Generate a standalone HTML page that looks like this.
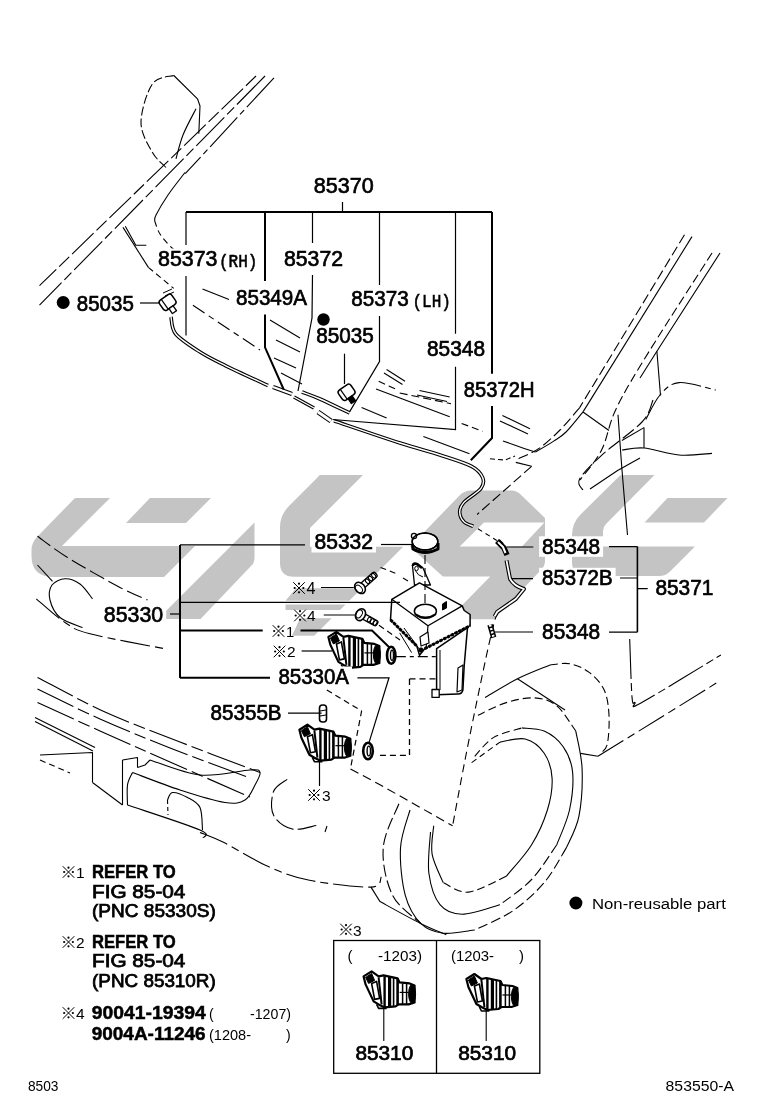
<!DOCTYPE html>
<html><head><meta charset="utf-8"><style>
html,body{margin:0;padding:0;background:#fff;width:760px;height:1112px;overflow:hidden}
svg{position:absolute;left:0;top:0;display:block;transform:translateZ(0)}
.lb{font-family:"Liberation Sans",sans-serif;fill:#000;stroke:#000;stroke-width:0.7px}
.mb{font-family:"Liberation Mono",monospace;fill:#000;stroke:#000;stroke-width:0.6px}
.sm{font-family:"Liberation Sans",sans-serif;stroke:#000;stroke-width:0.25px;fill:#000}
.nt{font-family:"Liberation Sans",sans-serif;font-weight:bold;fill:#000}
.rg{font-family:"Liberation Sans",sans-serif;fill:#000}
</style></head><body>
<svg width="760" height="1112" viewBox="0 0 760 1112">
<g fill="#c4c4c4" stroke="none">
<path d="M76,498 L110,498 L62,546 L195,546 L164,577 L54,577 Q31.5,577 31.5,556 L31.5,550 Q31.5,543 37,537 L73,500 Q74.5,498 76,498 Z"/>
<path d="M150,498 L211,498 L186,523 L126,523 Z"/>
<path d="M254.5,522.5 L254.5,558 Q254.5,563 251,566 L200.5,619 L158,619 Z"/>
<path d="M320,475 L363,475 L310,528 L310,546.8 L403.2,546.8 L373.2,576.8 L294,576.8 Q280,576.8 280,563 L280,527 Q280,515 289,506 L318,477 Q319,475 320,475 Z"/>
<path fill-rule="evenodd" d="M410,546.8 L459,496 Q464,490.5 471,490.5 L512,490.5 Q516,490.5 519,493 L545,518 L545,561 Q545,566 541,570 L494,619.2 L448.2,619.2 L490.3,576.4 L442.9,576.4 Z M483.9,522.4 L544.4,522.4 L522,546.6 L459.7,546.6 Z"/>
<path d="M622,475 L654.5,475 L606,524 Q603,527 603,531 L603,546.5 L695,546.5 L670,571.5 Q665.5,576 659,576 L586,576 Q572,576 572,562 L572,535 Q572,523 581,514 L619,476.5 Q620,475 622,475 Z"/>
<path d="M667.5,498 L727.5,498 L704,522.5 L644.5,522.5 Z"/>
<path d="M296,588.2 L361.8,588.2 L349.2,600.8 L285.5,600.8 Z"/><path d="M285.5,604.5 L345.5,604.5 L340,610 L285.5,610 Z"/><path d="M300,618.3 L331.7,618.3 L314.2,635.8 L292,635.8 Z"/>
</g>
<g fill="none" stroke="#000" stroke-linecap="butt" stroke-linejoin="round">
<path d="M173.8,75.5 L197.5,98.8 L200.0,106.0 L198.8,133.8" stroke-width="1.1"/>
<path d="M196.0,108.8 C193.8,113.1 186.3,126.7 183.0,135.0 C179.7,143.3 177.2,154.8 176.0,158.8" stroke-width="1.1"/>
<path d="M185.0,172.5 C182.2,176.2 172.8,187.9 168.0,195.0 C163.2,202.1 158.2,210.7 156.0,215.0 C153.8,219.3 154.9,220.0 154.7,221.0" stroke-width="1.1"/>
<path d="M123.0,227.4 L148.4,267.4" stroke-width="1.1"/>
<path d="M125.3,226.3 L135.8,245.3 L146.3,245.3" stroke-width="1.1"/>
<path d="M202.5,289.0 L229.0,299.5" stroke-width="1.1"/>
<path d="M270.0,320.0 L300.0,338.0" stroke-width="1.1"/>
<path d="M276.0,340.0 L300.0,352.0" stroke-width="1.1"/>
<path d="M274.0,358.0 L296.0,368.0" stroke-width="1.1"/>
<path d="M281.0,373.0 L302.0,384.0" stroke-width="1.1"/>
<path d="M386.6,369.5 L405.0,381.3" stroke-width="1.1"/>
<path d="M384.0,373.0 L402.5,384.5" stroke-width="1.1"/>
<path d="M376.0,389.0 L449.7,416.8" stroke-width="1.1"/>
<path d="M419.5,390.5 L449.7,397.0" stroke-width="1.1"/>
<path d="M417.0,395.0 L447.0,401.5" stroke-width="1.1"/>
<path d="M361.6,407.6 L386.6,418.0" stroke-width="1.1"/>
<path d="M423.4,436.6 L469.5,453.7" stroke-width="1.1"/>
<path d="M502.4,415.5 L530.0,428.7" stroke-width="1.1"/>
<path d="M500.0,421.0 L528.0,434.0" stroke-width="1.1"/>
<path d="M503.0,441.0 C506.5,442.2 518.8,446.5 524.2,448.4 C529.6,450.2 533.4,451.5 535.3,452.1" stroke-width="1.1"/>
<path d="M515.8,462.4 L531.6,466.3" stroke-width="1.1"/>
<path d="M692.0,236.6 L583.2,411.6" stroke-width="1.1"/>
<path d="M583.2,411.6 C580.3,415.0 570.9,427.1 566.0,432.0 C561.1,436.9 558.8,437.8 553.7,441.1 C548.6,444.5 538.4,450.3 535.3,452.1" stroke-width="1.1"/>
<path d="M720.0,253.0 L656.9,351.3 L640.0,378.0" stroke-width="1.1"/>
<path d="M656.9,351.3 L660.5,395.5" stroke-width="1.1"/>
<path d="M583.0,412.0 L609.0,430.5" stroke-width="1.1"/>
<path d="M590.0,489.0 L617.6,470.5 L640.0,458.0" stroke-width="1.1"/>
<path d="M618.0,414.7 C618.7,423.9 620.4,449.9 622.0,470.0 C623.6,490.1 626.6,524.2 627.5,535.0" stroke-width="1.1"/>
<path d="M621.9,440.5 L644.0,427.6" stroke-width="1.1"/>
<path d="M644.0,427.6 L644.0,448.0" stroke-width="1.1"/>
<path d="M622.0,450.0 C625.7,449.7 634.5,447.2 644.0,448.0 C653.5,448.8 667.7,454.1 679.0,455.0 C690.3,455.9 706.5,453.7 712.0,453.4" stroke-width="1.1"/>
<path d="M37.5,565.0 L52.5,581.3" stroke-width="1.1"/>
<path d="M92.5,598.8 C90.4,596.3 84.6,587.3 80.0,584.0 C75.4,580.7 69.7,578.6 65.0,578.8 C60.3,579.0 54.5,581.5 52.0,585.0 C49.5,588.5 48.7,594.6 50.0,600.0 C51.3,605.4 54.6,612.9 60.0,617.5 C65.4,622.1 78.8,625.8 82.5,627.5" stroke-width="1.1"/>
<path d="M35.0,717.5 L95.0,747.5" stroke-width="1.1"/>
<path d="M35.0,721.5 L93.0,751.0" stroke-width="1.1"/>
<path d="M40.0,755.0 L92.5,752.5 L92.5,782.5" stroke-width="1.1"/>
<path d="M92.5,782.5 L122.5,805.0" stroke-width="1.1"/>
<path d="M122.5,760.0 L122.5,805.0" stroke-width="1.1"/>
<path d="M122.5,760.0 L137.5,757.5 L137.5,767.5" stroke-width="1.1"/>
<path d="M137.5,767.5 L145.0,765.0 L150.0,760.0" stroke-width="1.1"/>
<path d="M132.5,772.5 C131.7,774.6 128.3,779.6 127.5,785.0 C126.7,790.4 127.5,801.7 127.5,805.0" stroke-width="1.1"/>
<path d="M127.5,805.0 C139.6,809.2 187.4,824.5 200.0,830.0 C212.6,835.5 202.5,836.7 203.0,838.0" stroke-width="1.1"/>
<path d="M167.5,800.0 C168.3,798.8 169.2,792.9 172.5,792.5 C175.8,792.1 182.9,795.0 187.5,797.5 C192.1,800.0 197.5,802.1 200.0,807.5 C202.5,812.9 202.1,826.2 202.5,830.0" stroke-width="1.1"/>
<path d="M150.0,760.0 C158.3,762.5 183.3,773.3 200.0,775.0 C216.7,776.7 240.0,770.4 250.0,770.0 C260.0,769.6 259.2,770.0 260.0,772.5 C260.8,775.0 257.5,780.4 255.0,785.0 C252.5,789.6 250.0,797.1 245.0,800.0 C240.0,802.9 235.8,804.2 225.0,802.5 C214.2,800.8 195.4,795.0 180.0,790.0 C164.6,785.0 140.4,775.4 132.5,772.5" stroke-width="1.1"/>
<path d="M485.0,697.5 C490.4,694.4 506.7,684.2 517.5,678.8 C528.3,673.3 544.6,667.3 550.0,665.0" stroke-width="1.1"/>
<path d="M517.5,678.8 L565.0,710.0" stroke-width="1.1"/>
<path d="M500.0,742.1 C504.2,741.6 517.9,737.1 525.3,739.0 C532.7,740.9 539.7,746.6 544.2,753.2 C548.7,759.8 551.6,768.9 552.1,778.4 C552.6,787.9 550.8,799.0 547.4,810.0 C544.0,821.0 538.5,833.7 531.6,844.7 C524.8,855.8 510.5,871.0 506.3,876.3" stroke-width="1.1"/>
<path d="M443.2,882.6 C441.4,877.9 433.7,863.7 432.1,854.2 C430.5,844.7 433.4,830.5 433.7,825.8" stroke-width="1.1"/>
<path d="M522.1,727.9 C525.8,728.4 537.4,728.0 544.2,731.1 C551.1,734.2 558.5,740.0 563.2,746.8 C567.9,753.6 571.6,761.6 572.6,772.1 C573.6,782.6 572.1,797.9 569.5,810.0 C566.9,822.1 558.9,838.9 556.8,844.7" stroke-width="1.1"/>
<path d="M500.0,904.7 C493.7,906.3 472.1,914.2 462.1,914.2 C452.1,914.2 445.5,911.5 440.0,904.7 C434.5,897.9 430.5,885.3 428.9,873.2 C427.3,861.1 430.2,839.0 430.5,832.1" stroke-width="1.1"/>
<path d="M575.8,731.1 C576.8,737.4 581.6,754.7 582.1,768.9 C582.6,783.1 581.5,803.1 578.9,816.3 C576.3,829.5 568.4,842.6 566.3,847.9" stroke-width="1.1"/>
<path d="M474.7,930.0 C469.4,930.5 452.1,934.2 443.2,933.2 C434.2,932.2 427.3,930.0 421.0,923.7 C414.7,917.4 408.7,907.9 405.3,895.3 C401.9,882.7 399.7,862.1 400.5,847.9 C401.3,833.7 408.4,816.3 410.0,810.0" stroke-width="1.1"/>
<path d="M380.0,901.6 C386.8,905.3 409.9,918.2 421.0,923.7 C432.1,929.2 442.1,932.9 446.3,934.7" stroke-width="1.1"/>
<path d="M580.5,753.4 L597.9,756.3" stroke-width="1.1"/>
<path d="M371.0,887.1 L380.0,901.6" stroke-width="1.1"/>
<path d="M327.0,826.0 L325.0,832.0" stroke-width="1.1"/>
<path d="M173.8,75.5 C170.2,76.9 158.0,75.9 152.5,83.8 C147.0,91.6 141.0,111.0 141.0,122.5 C141.0,134.0 148.3,145.0 152.5,152.5 C156.7,160.0 163.8,165.0 166.0,167.5" stroke-width="1.1" stroke-dasharray="9 3"/>
<path d="M256.0,76.0 L39.5,285.6" stroke-width="1.1" stroke-dasharray="14 4 30 4"/>
<path d="M265.0,76.0 L39.5,305.1" stroke-width="1.1" stroke-dasharray="40 4 10 4"/>
<path d="M274.0,77.8 L185.2,173.7" stroke-width="1.1" stroke-dasharray="40 4 6 4"/>
<path d="M154.7,221.0 C155.6,223.2 157.1,229.5 160.0,234.0 C162.9,238.5 167.8,244.0 172.0,248.0 C176.2,252.0 182.8,256.3 185.0,258.0" stroke-width="1.1" stroke-dasharray="6 4"/>
<path d="M148.4,267.4 L173.7,288.4" stroke-width="1.1" stroke-dasharray="6 4"/>
<path d="M192.9,305.3 L260.0,350.0" stroke-width="1.1" stroke-dasharray="14 5 6 5"/>
<path d="M477.9,528.7 L496.8,540.5" stroke-width="1.1" stroke-dasharray="5 4"/>
<path d="M378.7,381.3 L395.8,389.2" stroke-width="1.1" stroke-dasharray="7 4"/>
<path d="M399.7,393.0 L451.0,403.7" stroke-width="1.1" stroke-dasharray="8 4"/>
<path d="M461.6,423.4 L482.6,431.3" stroke-width="1.1" stroke-dasharray="7 4"/>
<path d="M490.0,458.8 L505.0,460.0 L515.0,456.0" stroke-width="1.1" stroke-dasharray="5 3"/>
<path d="M684.5,234.7 L579.5,407.9" stroke-width="1.1" stroke-dasharray="10 4"/>
<path d="M579.5,407.9 C576.2,411.6 566.8,423.2 560.0,430.0 C553.2,436.8 546.2,443.5 539.0,448.4 C531.8,453.3 520.5,457.6 516.8,459.5" stroke-width="1.1" stroke-dasharray="10 4"/>
<path d="M531.6,466.3 L477.1,514.5" stroke-width="1.1" stroke-dasharray="10 4"/>
<path d="M712.0,253.0 C701.7,269.2 666.0,324.1 650.0,350.0 C634.0,375.9 624.4,391.7 616.3,408.4 C608.2,425.1 607.6,438.1 601.6,450.0 C595.6,461.9 583.6,475.0 580.0,480.0" stroke-width="1.1" stroke-dasharray="9 4"/>
<path d="M645.8,419.5 C648.2,415.4 654.5,401.1 660.0,395.0 C665.5,388.9 669.7,383.4 679.0,382.6 C688.3,381.8 709.7,388.8 715.8,390.0" stroke-width="1.1" stroke-dasharray="30 4 6 4"/>
<path d="M653.0,400.0 C651.2,403.7 650.6,412.8 642.0,422.0 C633.4,431.2 612.0,445.8 601.6,455.3 C591.2,464.8 582.6,473.4 579.5,479.2 C576.4,485.0 582.4,488.4 583.0,490.3" stroke-width="1.1" stroke-dasharray="14 4"/>
<path d="M37.5,536.3 C42.5,539.8 53.8,549.0 67.5,557.5 C81.2,566.0 106.7,580.4 120.0,587.5 C133.3,594.6 142.9,597.9 147.5,600.0" stroke-width="1.1" stroke-dasharray="16 5"/>
<path d="M36.3,598.8 C41.1,602.8 56.0,616.7 65.0,622.5 C74.0,628.3 73.3,629.4 90.0,633.8 C106.7,638.2 152.5,646.3 165.0,648.8" stroke-width="1.1" stroke-dasharray="30 5 8 5"/>
<path d="M37.5,677.5 C48.8,683.2 81.2,701.2 105.0,712.0 C128.8,722.8 154.2,731.9 180.0,742.0 C205.8,752.1 246.7,767.4 260.0,772.5" stroke-width="1.1" stroke-dasharray="40 5 12 5"/>
<path d="M37.5,689.0 C47.9,694.0 77.9,709.2 100.0,719.0 C122.1,728.8 145.0,738.2 170.0,748.0 C195.0,757.8 236.7,773.0 250.0,778.0" stroke-width="1.1" stroke-dasharray="40 5 12 5"/>
<path d="M37.5,702.5 C47.9,707.2 77.9,721.1 100.0,731.0 C122.1,740.9 145.0,751.0 170.0,762.0 C195.0,773.0 236.7,791.2 250.0,797.0" stroke-width="1.1" stroke-dasharray="40 5 12 5"/>
<path d="M40.0,760.0 L70.0,773.0" stroke-width="1.1" stroke-dasharray="6 4"/>
<path d="M167.5,800.0 L168.0,815.0" stroke-width="1.1" stroke-dasharray="4 3"/>
<path d="M497.0,612.0 C495.6,617.5 491.9,631.0 488.8,645.0 C485.6,659.0 481.9,677.1 477.9,696.3 C473.9,715.5 469.2,738.4 465.0,760.0 C460.8,781.6 454.7,814.8 452.6,825.8" stroke-width="1.1" stroke-dasharray="8 5"/>
<path d="M350.5,769.0 L380.0,784.7 L452.6,825.8" stroke-width="1.1" stroke-dasharray="9 5"/>
<path d="M550.0,665.0 C553.3,664.8 563.5,662.5 570.0,663.8 C576.5,665.0 583.5,668.0 589.2,672.4 C594.9,676.8 600.9,682.9 604.2,690.0 C607.5,697.1 608.5,706.3 609.0,715.3 C609.5,724.2 608.7,737.4 607.4,743.7 C606.1,750.0 602.1,751.6 601.0,753.2" stroke-width="1.1" stroke-dasharray="8 4"/>
<path d="M471.6,762.6 L500.0,742.1" stroke-width="1.1" stroke-dasharray="6 4"/>
<path d="M506.3,876.3 C500.0,878.9 478.9,891.0 468.4,892.1 C457.9,893.2 447.4,884.2 443.2,882.6" stroke-width="1.1" stroke-dasharray="8 4"/>
<path d="M474.7,756.3 C477.9,753.1 485.8,742.1 493.7,737.4 C501.6,732.7 517.4,729.5 522.1,727.9" stroke-width="1.1" stroke-dasharray="8 4"/>
<path d="M556.8,844.7 C552.6,850.5 541.1,869.5 531.6,879.5 C522.1,889.5 505.3,900.5 500.0,904.7" stroke-width="1.1" stroke-dasharray="10 4"/>
<path d="M477.9,715.3 C482.6,713.2 496.8,705.5 506.3,702.6 C515.8,699.7 526.3,697.4 534.7,697.9 C543.1,698.4 549.9,700.3 556.8,705.8 C563.6,711.3 572.6,726.9 575.8,731.1" stroke-width="1.1" stroke-dasharray="8 4"/>
<path d="M566.3,847.9 C562.6,853.7 553.2,872.1 544.2,882.6 C535.2,893.1 524.2,903.1 512.6,911.0 C501.0,918.9 481.0,926.8 474.7,930.0" stroke-width="1.1" stroke-dasharray="10 4"/>
<path d="M398.9,803.7 C396.3,811.1 384.2,832.6 383.2,847.9 C382.1,863.2 386.3,882.7 392.6,895.3 C398.9,907.9 416.3,919.0 421.0,923.7" stroke-width="1.1" stroke-dasharray="12 4"/>
<path d="M629.7,639.0 C630.1,648.7 631.1,686.4 632.0,697.0 C632.9,707.6 633.5,701.5 635.0,702.5 C636.5,703.5 626.7,710.9 641.0,703.0 C655.3,695.1 707.6,663.0 720.9,655.0" stroke-width="1.1" stroke-dasharray="40 4 8 4"/>
<path d="M597.9,756.3 C608.2,749.9 639.7,730.5 660.0,718.0 C680.3,705.5 709.6,687.2 719.5,681.1" stroke-width="1.1" stroke-dasharray="30 5 8 5"/>
<path d="M200.0,832.4 C204.0,834.1 212.6,836.9 224.0,842.6 C235.4,848.3 254.1,860.3 268.4,866.6 C282.6,872.9 292.4,876.9 309.5,880.3 C326.6,883.7 359.0,887.7 371.0,887.1 C383.0,886.5 379.6,878.5 381.3,876.8" stroke-width="1.1" stroke-dasharray="30 5 8 5"/>
<path d="M287.2,779.3 C284.9,781.3 275.9,785.3 273.6,791.3 C271.3,797.3 270.5,809.0 273.6,815.3 C276.7,821.6 285.3,827.3 292.4,829.0 C299.5,830.7 312.3,826.1 316.3,825.5" stroke-width="1.1" stroke-dasharray="20 4"/>
<path d="M171.0,317.0 C171.8,319.8 171.0,328.2 175.8,334.0 C180.6,339.8 191.7,346.7 200.0,352.0 C208.3,357.3 214.5,360.2 225.8,365.8 C237.1,371.4 261.0,382.2 268.0,385.5" stroke-width="3.6"/><path d="M171.0,317.0 C171.8,319.8 171.0,328.2 175.8,334.0 C180.6,339.8 191.7,346.7 200.0,352.0 C208.3,357.3 214.5,360.2 225.8,365.8 C237.1,371.4 261.0,382.2 268.0,385.5" stroke="#fff" stroke-width="1.4"/>
<path d="M273.0,387.0 L292.0,394.0" stroke-width="4.5"/><path d="M273.0,387.0 L292.0,394.0" stroke="#fff" stroke-width="2.3"/>
<path d="M294.0,397.0 L314.0,408.0" stroke-width="3.6"/><path d="M294.0,397.0 L314.0,408.0" stroke="#fff" stroke-width="1.4"/>
<path d="M318.0,412.0 L331.0,421.0" stroke-width="5"/><path d="M318.0,412.0 L331.0,421.0" stroke="#fff" stroke-width="2.8"/>
<path d="M302.0,392.0 C305.0,393.2 312.1,395.5 320.0,399.0 C327.9,402.5 344.6,410.7 349.5,413.0" stroke-width="3.6"/><path d="M302.0,392.0 C305.0,393.2 312.1,395.5 320.0,399.0 C327.9,402.5 344.6,410.7 349.5,413.0" stroke="#fff" stroke-width="1.4"/>
<path d="M334.0,420.8 C345.0,424.5 382.3,437.3 400.0,443.0 C417.7,448.7 428.1,451.1 440.0,455.0 C451.9,458.9 464.5,462.6 471.6,466.3 C478.7,470.0 481.0,473.7 482.6,477.4 C484.2,481.1 484.1,484.2 481.0,488.4 C477.9,492.6 467.2,498.7 463.7,502.6 C460.1,506.6 459.7,508.9 459.7,512.1 C459.7,515.3 461.4,519.2 463.7,521.6 C465.9,524.0 471.6,525.5 473.2,526.3" stroke-width="3.6"/><path d="M334.0,420.8 C345.0,424.5 382.3,437.3 400.0,443.0 C417.7,448.7 428.1,451.1 440.0,455.0 C451.9,458.9 464.5,462.6 471.6,466.3 C478.7,470.0 481.0,473.7 482.6,477.4 C484.2,481.1 484.1,484.2 481.0,488.4 C477.9,492.6 467.2,498.7 463.7,502.6 C460.1,506.6 459.7,508.9 459.7,512.1 C459.7,515.3 461.4,519.2 463.7,521.6 C465.9,524.0 471.6,525.5 473.2,526.3" stroke="#fff" stroke-width="1.4"/>
</g>
<g stroke="#000" stroke-linejoin="round">
<path d="M412.5,544 L413,549 Q425,556 438,549 L438,543" fill="#fff" stroke-width="3"/>
<ellipse cx="425" cy="541.5" rx="12.8" ry="8.5" fill="#fff" stroke-width="1.5"/>
<circle cx="414" cy="536" r="2.6" fill="#fff" stroke-width="1.3"/>
<ellipse cx="425" cy="541.5" rx="12.8" ry="8.5" fill="none" stroke-width="1.5"/>
<path d="M412.5,566 Q412.5,562 417,563.5 L423,568 L430.5,585 L414.5,585 Z" fill="#fff" stroke-width="1.3"/>
<path d="M412.8,566 Q413,563 417,564 L422,568" fill="none" stroke-width="2.6"/>
<path d="M415,570 Q418,576 423,577" fill="none" stroke-width="1"/>
<ellipse cx="416.5" cy="568.5" rx="1.8" ry="2.2" fill="none" stroke-width="1"/>
<path d="M380.5,567.4 L395.3,573.2 M403,578 L408,581" stroke-width="1.1" stroke-dasharray="6 4" fill="none"/>
<path d="M379,625.3 L400,640" stroke-width="1.1" stroke-dasharray="6 4" fill="none"/>
<path d="M436.6,648.7 L467.5,627.6 L464.2,665.8 L462.9,690 Q462,694 458,694 L436.6,694.7 Z" fill="#fff" stroke-width="1.5"/>
<path d="M458,668 L463,665 L462,690 L457,692 Z" fill="none" stroke-width="1.2"/>
<path d="M432,689.5 L439.2,689.5 L439.2,697.4 L432,697.4 Z" fill="#fff" stroke-width="1.3"/>
<path d="M440,650 L440,690" fill="none" stroke-width="1"/>
<path d="M391.8,599.3 L419.5,582.9 L462.2,605.9 L464.2,610.5 L470.1,614.5 L470.1,625.7 L424.7,648.7 L419.5,655.3 L416.8,646 L390.5,619.7 Z" fill="#fff" stroke-width="1.5"/>
<path d="M391.8,599.3 L428,625.7 L462.2,605.9" fill="none" stroke-width="1.3"/>
<path d="M428,625.7 L426,648.7" fill="none" stroke-width="1.2"/>
<path d="M390.5,619.7 L416.8,646" fill="none" stroke-width="3" stroke-dasharray="3 1.2"/>
<path d="M424.7,648.7 L470.1,625.7" fill="none" stroke-width="3" stroke-dasharray="3 1.2"/>
<path d="M399.7,632.9 L411.6,652.6 M404,628 L420,650" fill="none" stroke-width="1"/>
<ellipse cx="425.4" cy="611.2" rx="11" ry="7" fill="#fff" stroke-width="1.5"/>
<path d="M415,614 Q425.4,621 436,614" fill="none" stroke-width="2"/>
<path d="M442.5,604 L446.5,601.5 L446.5,608 L442.5,610 Z" fill="#000" stroke-width="1"/>
<path d="M420,637 L428,632 L429,643 L421,646 Z" fill="#fff" stroke-width="1.2"/>
<circle cx="421" cy="650" r="2.2" fill="#000" stroke-width="0.8"/>
<path d="M395.8,656.6 L436.6,656.6" fill="none" stroke-width="1.1" stroke-dasharray="10 4 4 4"/>
<path d="M425,555 L425,606" stroke-width="1.1" stroke-dasharray="9 4" fill="none"/>
<path d="M409.5,678.9 L437,678.9 M409.5,678.9 L409.5,755.3 L376.3,755.3" fill="none" stroke-width="1.3" stroke-dasharray="6 4"/>
<ellipse cx="391.2" cy="655.3" rx="4.2" ry="8.5" fill="#fff" stroke-width="2.6"/>
<ellipse cx="392.0" cy="655.3" rx="1.5" ry="5.1" fill="none" stroke-width="1.4"/>
<g transform="translate(360,587.9) rotate(-41.7)">
<rect x="2" y="-2.9" width="19.4" height="5.8" rx="2" fill="#fff" stroke-width="1.3"/>
<ellipse cx="10.0" cy="0" rx="1.6" ry="2.6" fill="none" stroke-width="1.1"/>
<ellipse cx="14.1" cy="0" rx="1.6" ry="2.6" fill="none" stroke-width="1.1"/>
<ellipse cx="18.3" cy="0" rx="1.6" ry="2.6" fill="none" stroke-width="1.1"/>
<ellipse cx="0" cy="0" rx="4.7" ry="6.2" fill="#fff" stroke-width="1.6"/>
<ellipse cx="-1.5" cy="0" rx="2.8" ry="4.3" fill="none" stroke-width="1"/>
</g>
<g transform="translate(360.5,614.7) rotate(29.0)">
<rect x="2" y="-2.9" width="17.1" height="5.8" rx="2" fill="#fff" stroke-width="1.3"/>
<ellipse cx="10.0" cy="0" rx="1.6" ry="2.6" fill="none" stroke-width="1.1"/>
<ellipse cx="13.4" cy="0" rx="1.6" ry="2.6" fill="none" stroke-width="1.1"/>
<ellipse cx="16.8" cy="0" rx="1.6" ry="2.6" fill="none" stroke-width="1.1"/>
<ellipse cx="0" cy="0" rx="4.7" ry="6.2" fill="#fff" stroke-width="1.6"/>
<ellipse cx="-1.5" cy="0" rx="2.8" ry="4.3" fill="none" stroke-width="1"/>
</g>
<g transform="translate(327.4,631.9) scale(1.0)">
<path d="M1,5 L9,0 L16,5 L21,4 L35,7 L37,11 L47,12 L52,14 L52,31 L46,33 L36,33 L33,35 L22,36 L16,33 L11,30 L3,13 Z" fill="#fff" stroke-width="2.2"/>
<path d="M3,6 L9,2 L12,9 L6,12 Z" fill="#000" stroke-width="1"/>
<path d="M9,12 L14,10 L17,27 L12,28 Z" fill="none" stroke-width="1.6"/>
<path d="M16,6 L19,33" fill="none" stroke-width="2"/>
<path d="M22,5 L22,36" fill="none" stroke-width="2.4"/>
<path d="M27,5 L27,35" fill="none" stroke-width="3.2"/>
<path d="M31,6 L31,35" fill="none" stroke-width="1.6"/>
<path d="M35,7 L35,34" fill="none" stroke-width="2.6"/>
<path d="M40,12 L40,33 M44,12 L44,33" fill="none" stroke-width="1.5"/>
<path d="M37,21 L46,21" fill="none" stroke-width="1.2"/>
<ellipse cx="49.5" cy="22.5" rx="3.5" ry="9.5" fill="#000" stroke-width="1"/>
<path d="M14,33 L16,37 L24,37" fill="none" stroke-width="1.6"/>
</g>
<ellipse cx="368" cy="751" rx="4.8" ry="8.2" fill="#fff" stroke-width="2.6"/>
<ellipse cx="368.8" cy="751" rx="1.7" ry="4.9" fill="none" stroke-width="1.4"/>
<g transform="translate(298.4,724.7) scale(1.0)">
<path d="M1,5 L9,0 L16,5 L21,4 L35,7 L37,11 L47,12 L52,14 L52,31 L46,33 L36,33 L33,35 L22,36 L16,33 L11,30 L3,13 Z" fill="#fff" stroke-width="2.2"/>
<path d="M3,6 L9,2 L12,9 L6,12 Z" fill="#000" stroke-width="1"/>
<path d="M9,12 L14,10 L17,27 L12,28 Z" fill="none" stroke-width="1.6"/>
<path d="M16,6 L19,33" fill="none" stroke-width="2"/>
<path d="M22,5 L22,36" fill="none" stroke-width="2.4"/>
<path d="M27,5 L27,35" fill="none" stroke-width="3.2"/>
<path d="M31,6 L31,35" fill="none" stroke-width="1.6"/>
<path d="M35,7 L35,34" fill="none" stroke-width="2.6"/>
<path d="M40,12 L40,33 M44,12 L44,33" fill="none" stroke-width="1.5"/>
<path d="M37,21 L46,21" fill="none" stroke-width="1.2"/>
<ellipse cx="49.5" cy="22.5" rx="3.5" ry="9.5" fill="#000" stroke-width="1"/>
<path d="M14,33 L16,37 L24,37" fill="none" stroke-width="1.6"/>
</g>
<rect x="319.5" y="705" width="7" height="17" rx="3" fill="#fff" stroke-width="1.6"/>
<path d="M320,711 L326,710 M320,716 L326,715" stroke-width="1.2" fill="none"/>
<path d="M326.8,690 L361.6,711 L351,765.8" fill="none" stroke-width="1.2" stroke-dasharray="6 4"/>
<g transform="translate(168,302) rotate(-35)"><rect x="-8" y="-6" width="15" height="12" rx="3" fill="#fff" stroke-width="1.5"/><path d="M-4,-6 L-4,6" stroke-width="1.2"/><rect x="-3" y="6" width="5" height="6" fill="#fff" stroke-width="1.3"/></g>
<path d="M163,293 L172,289 M165,296 L174,292" stroke-width="1" fill="none"/>
<g transform="translate(347,392) rotate(-35)"><rect x="-8" y="-6" width="15" height="12" rx="3" fill="#fff" stroke-width="1.5"/><path d="M-4,-6 L-4,6" stroke-width="1.2"/><rect x="-3" y="6" width="5" height="6" fill="#000" stroke-width="1.3"/></g>
<path d="M497,541 L504,548 L507,555" stroke-width="5.5" fill="none"/><path d="M498,542 L503,547 L505.5,553" stroke="#fff" stroke-width="2" fill="none"/>
<path d="M499,540 L503,544" stroke-width="2" fill="none"/>
<path d="M506.5,560.3 L510,578.7 Q514,586 524,589 L515.8,599 L497.3,611.8 L494.6,616.4" stroke-width="4" fill="none"/><path d="M506.5,560.3 L510,578.7 Q514,586 524,589 L515.8,599 L497.3,611.8 L494.6,616.4" stroke="#fff" stroke-width="1.8" fill="none"/>
<path d="M490,624.7 L493.7,637.6" stroke-width="5.5" fill="none"/><path d="M490,624.7 L493.7,637.6" stroke="#fff" stroke-width="2.5" fill="none" stroke-dasharray="2 1.5"/>
<g transform="translate(362.6,971.4) scale(1.0)">
<path d="M1,5 L9,0 L16,5 L21,4 L35,7 L37,11 L47,12 L52,14 L52,31 L46,33 L36,33 L33,35 L22,36 L16,33 L11,30 L3,13 Z" fill="#fff" stroke-width="2.2"/>
<path d="M3,6 L9,2 L12,9 L6,12 Z" fill="#000" stroke-width="1"/>
<path d="M9,12 L14,10 L17,27 L12,28 Z" fill="none" stroke-width="1.6"/>
<path d="M16,6 L19,33" fill="none" stroke-width="2"/>
<path d="M22,5 L22,36" fill="none" stroke-width="2.4"/>
<path d="M27,5 L27,35" fill="none" stroke-width="3.2"/>
<path d="M31,6 L31,35" fill="none" stroke-width="1.6"/>
<path d="M35,7 L35,34" fill="none" stroke-width="2.6"/>
<path d="M40,12 L40,33 M44,12 L44,33" fill="none" stroke-width="1.5"/>
<path d="M37,21 L46,21" fill="none" stroke-width="1.2"/>
<ellipse cx="49.5" cy="22.5" rx="3.5" ry="9.5" fill="#000" stroke-width="1"/>
<path d="M14,33 L16,37 L24,37" fill="none" stroke-width="1.6"/>
</g>
<g transform="translate(465.4,974) scale(1.0)">
<path d="M1,5 L9,0 L16,5 L21,4 L35,7 L37,11 L47,12 L52,14 L52,31 L46,33 L36,33 L33,35 L22,36 L16,33 L11,30 L3,13 Z" fill="#fff" stroke-width="2.2"/>
<path d="M3,6 L9,2 L12,9 L6,12 Z" fill="#000" stroke-width="1"/>
<path d="M9,12 L14,10 L17,27 L12,28 Z" fill="none" stroke-width="1.6"/>
<path d="M16,6 L19,33" fill="none" stroke-width="2"/>
<path d="M22,5 L22,36" fill="none" stroke-width="2.4"/>
<path d="M27,5 L27,35" fill="none" stroke-width="3.2"/>
<path d="M31,6 L31,35" fill="none" stroke-width="1.6"/>
<path d="M35,7 L35,34" fill="none" stroke-width="2.6"/>
<path d="M40,12 L40,33 M44,12 L44,33" fill="none" stroke-width="1.5"/>
<path d="M37,21 L46,21" fill="none" stroke-width="1.2"/>
<ellipse cx="49.5" cy="22.5" rx="3.5" ry="9.5" fill="#000" stroke-width="1"/>
<path d="M14,33 L16,37 L24,37" fill="none" stroke-width="1.6"/>
</g>
</g>
<g fill="none" stroke="#000" stroke-width="1.2">
<path d="M186,212 L492,212" stroke-width="2.2"/>
<path d="M342.5,202 L342.5,212"/>
<path d="M186,212 L186,245 M186,276 L186,335.5"/>
<path d="M265,212 L265,281 M265,314.5 L265,347.4 L283.7,389.5" stroke-width="2"/>
<path d="M312.5,212 L312.5,243 M312.5,275 L312,318 L298,391"/>
<path d="M379.5,212 L379.5,285 M379.5,316 L379.5,361.6 L349.7,411.6"/>
<path d="M455.5,212 L455.5,333.75 M455.5,366.8 L455.5,429.5 L332.6,419.5"/>
<path d="M492,212 L492,373.75 M492,406 L492,438 L470.8,460.3" stroke-width="2"/>
<path d="M344.5,353.7 L344.5,384"/>
<path d="M140,303 L160,303"/>
<path d="M180,544.9 L180,678" stroke-width="2"/>
<path d="M180,544.9 L305,544.9"/>
<path d="M381,544.5 L412.5,544.5"/>
<path d="M180,602.4 L400,602.4"/>
<path d="M170,614 L180,614"/>
<path d="M180,630.6 L262.7,630.6 M300.5,630.6 L372,630.6 L390,648" stroke-width="2"/>
<path d="M301.6,651 L332,651"/>
<path d="M180,677.8 L270,677.8" stroke-width="2"/>
<path d="M357.4,677.8 L389,677.8 L369,742.6"/>
<path d="M321,587.5 L353.75,587.5 M323.75,615 L355,615"/>
<path d="M288,713.2 L321.6,713.2"/>
<path d="M319.5,761.6 L319.5,786"/>
<path d="M637.4,546.6 L637.4,632.2" stroke-width="1.6"/>
<path d="M609,546.6 L637.4,546.6 M620,578 L637.4,578 M609,632.2 L637.4,632.2 M637.4,588.6 L647.7,588.6"/>
<path d="M506.6,547 L533.3,547 M512,578.7 L533,578.7 M494.6,632 L533,632"/>
</g>

<rect x="310.8" y="175.0" width="66.0" height="21.5" fill="#fff"/>
<text x="313.75" y="193.3" font-size="22.97" textLength="60" lengthAdjust="spacingAndGlyphs" class="lb">85370</text>
<rect x="155.0" y="248.5" width="65.5" height="21.0" fill="#fff"/>
<text x="158" y="266.3" font-size="22.30" textLength="59.5" lengthAdjust="spacingAndGlyphs" class="lb">85373</text>
<rect x="281.0" y="248.5" width="65.0" height="21.0" fill="#fff"/>
<text x="284" y="266.3" font-size="22.30" textLength="59" lengthAdjust="spacingAndGlyphs" class="lb">85372</text>
<rect x="233.0" y="287.5" width="77.0" height="21.0" fill="#fff"/>
<text x="236" y="305.3" font-size="22.30" textLength="71" lengthAdjust="spacingAndGlyphs" class="lb">85349A</text>
<rect x="348.2" y="288.5" width="63.5" height="21.0" fill="#fff"/>
<text x="351.25" y="306.3" font-size="22.30" textLength="57.5" lengthAdjust="spacingAndGlyphs" class="lb">85373</text>
<rect x="73.8" y="293.5" width="63.0" height="21.0" fill="#fff"/>
<text x="76.8" y="311.3" font-size="22.30" textLength="57" lengthAdjust="spacingAndGlyphs" class="lb">85035</text>
<rect x="313.2" y="326.0" width="63.5" height="20.5" fill="#fff"/>
<text x="316.25" y="343.3" font-size="21.62" textLength="57.5" lengthAdjust="spacingAndGlyphs" class="lb">85035</text>
<rect x="424.0" y="339.0" width="64.0" height="20.5" fill="#fff"/>
<text x="427" y="356.3" font-size="21.62" textLength="58" lengthAdjust="spacingAndGlyphs" class="lb">85348</text>
<rect x="460.8" y="378.5" width="76.8" height="21.5" fill="#fff"/>
<text x="463.75" y="396.8" font-size="22.97" textLength="70.75" lengthAdjust="spacingAndGlyphs" class="lb">85372H</text>
<rect x="311.5" y="532.0" width="64.5" height="20.5" fill="#fff"/>
<text x="314.5" y="549.3" font-size="21.62" textLength="58.5" lengthAdjust="spacingAndGlyphs" class="lb">85332</text>
<rect x="539.1" y="536.3" width="64.0" height="20.5" fill="#fff"/>
<text x="542.1" y="553.6" font-size="21.62" textLength="58" lengthAdjust="spacingAndGlyphs" class="lb">85348</text>
<rect x="539.1" y="567.8" width="76.5" height="20.5" fill="#fff"/>
<text x="542.1" y="585.1" font-size="21.62" textLength="70.5" lengthAdjust="spacingAndGlyphs" class="lb">85372B</text>
<rect x="652.4" y="577.3" width="64.0" height="21.0" fill="#fff"/>
<text x="655.4" y="595.1" font-size="22.30" textLength="58" lengthAdjust="spacingAndGlyphs" class="lb">85371</text>
<rect x="539.1" y="621.2" width="64.0" height="20.5" fill="#fff"/>
<text x="542.1" y="638.5" font-size="21.62" textLength="58" lengthAdjust="spacingAndGlyphs" class="lb">85348</text>
<rect x="100.8" y="604.1" width="65.4" height="21.0" fill="#fff"/>
<text x="103.8" y="621.9" font-size="22.30" textLength="59.4" lengthAdjust="spacingAndGlyphs" class="lb">85330</text>
<rect x="275.4" y="666.5" width="76.6" height="21.0" fill="#fff"/>
<text x="278.4" y="684.3" font-size="22.30" textLength="70.6" lengthAdjust="spacingAndGlyphs" class="lb">85330A</text>
<rect x="207.6" y="702.5" width="77.0" height="20.5" fill="#fff"/>
<text x="210.6" y="719.8" font-size="21.62" textLength="71" lengthAdjust="spacingAndGlyphs" class="lb">85355B</text>
<rect x="352.4" y="1044.2" width="63.9" height="19.0" fill="#fff"/>
<text x="355.4" y="1060.0" font-size="19.59" textLength="57.9" lengthAdjust="spacingAndGlyphs" class="lb">85310</text>
<rect x="455.2" y="1044.2" width="63.9" height="19.0" fill="#fff"/>
<text x="458.2" y="1060.0" font-size="19.59" textLength="57.9" lengthAdjust="spacingAndGlyphs" class="lb">85310</text>
<g fill="#000">
<circle cx="63.2" cy="302.5" r="6.5"/>
<circle cx="323.5" cy="319.5" r="6.2"/>
<circle cx="575.9" cy="903" r="6.5"/>
</g>
<g fill="none" stroke="#000" stroke-width="1.3">
<rect x="333.7" y="940.5" width="206.1" height="132.8"/>
<path d="M436.5,940.5 L436.5,1073.3"/>
<path d="M383.8,1007.6 L383.8,1041 M486.2,1010 L486.2,1041" stroke-width="1.1"/>
</g>
<g class="nt" stroke="#000" stroke-width="0.5">
<text x="92" y="877.7" font-size="17.5" textLength="83.7" lengthAdjust="spacingAndGlyphs">REFER TO</text>
<text font-weight="normal" stroke="#000" stroke-width="0.75" x="92" y="897.5" font-size="17.5" textLength="93.4" lengthAdjust="spacingAndGlyphs">FIG 85-04</text>
<text font-weight="normal" stroke="#000" stroke-width="0.75" x="92" y="917" font-size="17.5" textLength="123.8" lengthAdjust="spacingAndGlyphs">(PNC 85330S)</text>
<text x="92" y="947.6" font-size="17.5" textLength="83.7" lengthAdjust="spacingAndGlyphs">REFER TO</text>
<text font-weight="normal" stroke="#000" stroke-width="0.75" x="92" y="967.4" font-size="17.5" textLength="93.4" lengthAdjust="spacingAndGlyphs">FIG 85-04</text>
<text font-weight="normal" stroke="#000" stroke-width="0.75" x="92" y="987" font-size="17.5" textLength="123.8" lengthAdjust="spacingAndGlyphs">(PNC 85310R)</text>
<text x="91.7" y="1019" font-size="19" textLength="114" lengthAdjust="spacingAndGlyphs">90041-19394</text>
<text x="91.7" y="1039.6" font-size="19" textLength="114" lengthAdjust="spacingAndGlyphs">9004A-11246</text>
</g>
<g class="rg">
<text x="209" y="1019" font-size="14">(</text>
<text x="250" y="1019" font-size="14" textLength="41" lengthAdjust="spacingAndGlyphs">-1207)</text>
<text x="209" y="1039.6" font-size="14" textLength="42" lengthAdjust="spacingAndGlyphs">(1208-</text>
<text x="286" y="1039.6" font-size="14">)</text>
<text x="347.6" y="961.3" font-size="15">(</text>
<text x="378" y="961.3" font-size="15" textLength="44" lengthAdjust="spacingAndGlyphs">-1203)</text>
<text x="451" y="961.3" font-size="15" textLength="43" lengthAdjust="spacingAndGlyphs">(1203-</text>
<text x="519" y="961.3" font-size="15">)</text>
<text x="28" y="1091" font-size="15.5" textLength="30.5" lengthAdjust="spacingAndGlyphs">8503</text>
<text x="665.6" y="1090.8" font-size="15.5" textLength="68.4" lengthAdjust="spacingAndGlyphs">853550-A</text>
<text x="592" y="908.9" font-size="15.5" textLength="133.8" lengthAdjust="spacingAndGlyphs">Non-reusable part</text>
</g>

<rect x="218" y="252" width="41" height="17" fill="#fff"/><text x="219" y="267" font-size="19" textLength="38.5" lengthAdjust="spacingAndGlyphs" class="mb">(RH)</text>
<rect x="411" y="292" width="41" height="17" fill="#fff"/><text x="412.5" y="307" font-size="19" textLength="38.5" lengthAdjust="spacingAndGlyphs" class="mb">(LH)</text>
<path d="M293.2,582.2 L304.8,593.8 M304.8,582.2 L293.2,593.8" stroke="#000" stroke-width="1.0" fill="none"/><circle cx="299" cy="583.65" r="1.1" fill="#000"/><circle cx="299" cy="592.35" r="1.1" fill="#000"/><circle cx="294.65" cy="588" r="1.1" fill="#000"/><circle cx="303.35" cy="588" r="1.1" fill="#000"/>
<text x="306.6" y="593.5" font-size="16.2" class="rg">4</text>
<path d="M294.2,609.7 L305.8,621.3 M305.8,609.7 L294.2,621.3" stroke="#000" stroke-width="1.0" fill="none"/><circle cx="300" cy="611.15" r="1.1" fill="#000"/><circle cx="300" cy="619.85" r="1.1" fill="#000"/><circle cx="295.65" cy="615.5" r="1.1" fill="#000"/><circle cx="304.35" cy="615.5" r="1.1" fill="#000"/>
<text x="307" y="621" font-size="15.5" class="rg">4</text>
<path d="M272.7,625.2 L284.3,636.8 M284.3,625.2 L272.7,636.8" stroke="#000" stroke-width="1.0" fill="none"/><circle cx="278.5" cy="626.65" r="1.1" fill="#000"/><circle cx="278.5" cy="635.35" r="1.1" fill="#000"/><circle cx="274.15" cy="631" r="1.1" fill="#000"/><circle cx="282.85" cy="631" r="1.1" fill="#000"/>
<text x="286" y="636.5" font-size="14.8" class="rg">1</text>
<path d="M273.7,645.7 L285.3,657.3 M285.3,645.7 L273.7,657.3" stroke="#000" stroke-width="1.0" fill="none"/><circle cx="279.5" cy="647.15" r="1.1" fill="#000"/><circle cx="279.5" cy="655.85" r="1.1" fill="#000"/><circle cx="275.15" cy="651.5" r="1.1" fill="#000"/><circle cx="283.85" cy="651.5" r="1.1" fill="#000"/>
<text x="287" y="657" font-size="15.5" class="rg">2</text>
<path d="M308.2,789.2 L319.8,800.8 M319.8,789.2 L308.2,800.8" stroke="#000" stroke-width="1.0" fill="none"/><circle cx="314" cy="790.65" r="1.1" fill="#000"/><circle cx="314" cy="799.35" r="1.1" fill="#000"/><circle cx="309.65" cy="795" r="1.1" fill="#000"/><circle cx="318.35" cy="795" r="1.1" fill="#000"/>
<text x="322" y="801" font-size="15.5" class="rg">3</text>
<path d="M62.7,866.2 L74.3,877.8 M74.3,866.2 L62.7,877.8" stroke="#000" stroke-width="1.0" fill="none"/><circle cx="68.5" cy="867.65" r="1.1" fill="#000"/><circle cx="68.5" cy="876.35" r="1.1" fill="#000"/><circle cx="64.15" cy="872" r="1.1" fill="#000"/><circle cx="72.85" cy="872" r="1.1" fill="#000"/>
<text x="76" y="878" font-size="15.5" class="rg">1</text>
<path d="M62.7,936.2 L74.3,947.8 M74.3,936.2 L62.7,947.8" stroke="#000" stroke-width="1.0" fill="none"/><circle cx="68.5" cy="937.65" r="1.1" fill="#000"/><circle cx="68.5" cy="946.35" r="1.1" fill="#000"/><circle cx="64.15" cy="942" r="1.1" fill="#000"/><circle cx="72.85" cy="942" r="1.1" fill="#000"/>
<text x="76" y="948" font-size="15.5" class="rg">2</text>
<path d="M62.7,1007.2 L74.3,1018.8 M74.3,1007.2 L62.7,1018.8" stroke="#000" stroke-width="1.0" fill="none"/><circle cx="68.5" cy="1008.65" r="1.1" fill="#000"/><circle cx="68.5" cy="1017.35" r="1.1" fill="#000"/><circle cx="64.15" cy="1013" r="1.1" fill="#000"/><circle cx="72.85" cy="1013" r="1.1" fill="#000"/>
<text x="76" y="1019" font-size="15.5" class="rg">4</text>
<path d="M340.2,923.7 L351.8,935.3 M351.8,923.7 L340.2,935.3" stroke="#000" stroke-width="1.0" fill="none"/><circle cx="346" cy="925.15" r="1.1" fill="#000"/><circle cx="346" cy="933.85" r="1.1" fill="#000"/><circle cx="341.65" cy="929.5" r="1.1" fill="#000"/><circle cx="350.35" cy="929.5" r="1.1" fill="#000"/>
<text x="353" y="935.5" font-size="15.5" class="rg">3</text>
</svg></body></html>
